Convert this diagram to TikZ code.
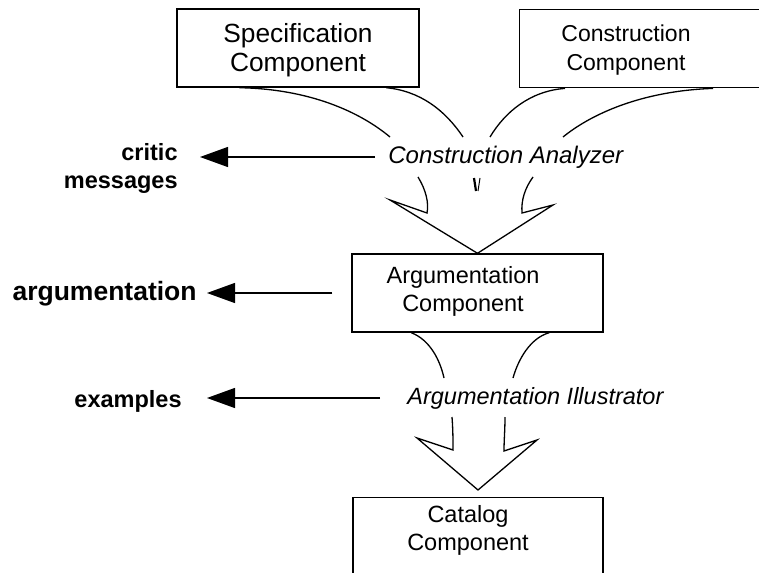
\documentclass[tikz,border=0pt]{standalone}
\usepackage{fontspec}
\setmainfont{Liberation Sans}
\usetikzlibrary{arrows.meta, positioning, calc}

\begin{document}
\begin{tikzpicture}[x=1pt, y=-1pt, thick]
        % Define block styles
        \tikzstyle{block} = [rectangle, draw, line width=1.4pt, inner sep=0pt]
        \tikzstyle{txt} = [inner sep=0pt, align=center]
        \tikzstyle{side} = [inner sep=0pt, align=right, font=\bfseries\fontsize{23.5}{28}\selectfont]
        \tikzstyle{line} = [draw, line width=1.3pt, -{Triangle[length=28pt, width=20pt]}]
        \tikzstyle{curve} = [draw, line width=1.3pt, line join=miter]

        \useasboundingbox (0,0) rectangle (759,572);

        % Define nodes
        \node [block, minimum width=242pt, minimum height=78pt] (spec) at (298,48) {};
        \node [txt, font=\fontsize{26.3}{29}\selectfont] (specTxt) at (298,50) {Specification\\Component};
        \node [block, minimum width=260pt, minimum height=78pt, anchor=north west] (cons) at (519,9) {};
        \node [txt, font=\fontsize{23}{29}\selectfont] (consTxt) at (626,50) {Construction\\Component};
        \node [block, minimum width=251pt, minimum height=78pt] (arg) at (477.5,293) {};
        \node [txt, font=\fontsize{23.5}{28}\selectfont] (argTxt) at (463,291) {Argumentation\\Component};
        \node [block, minimum width=250pt, minimum height=90pt, anchor=north] (cat) at (478,497) {};
        \node [txt, font=\fontsize{23.5}{28}\selectfont] (catTxt) at (468,530) {Catalog\\Component};

        \node [txt, anchor=west, font=\itshape\fontsize{24}{28}\selectfont] (ca) at (388,157) {Construction Analyzer};
        \node [txt, anchor=west, font=\itshape\fontsize{23.5}{28}\selectfont] (ai) at (407,398) {Argumentation Illustrator};

        \node [side, anchor=east] (critic) at (178,168) {critic\\messages};
        \node [side, anchor=east, font=\bfseries\fontsize{26.5}{30}\selectfont] (argOut) at (197,294) {argumentation};
        \node [side, anchor=east] (ex) at (182,401) {examples};

        % Curve ends round the analyzer
        \coordinate (e1) at (390,137);
        \coordinate (e2) at (463,137);
        \coordinate (e3) at (490,137);
        \coordinate (e4) at (563,137);

        % Connect nodes with paths
        \path [curve] ([xshift=63pt]spec.south west) .. controls (310,89) and (360,112) .. (e1);
        \path [curve] ([xshift=210pt]spec.south west) .. controls (420,91) and (445,110) .. (e2);
        \path [curve] ([xshift=46pt]cons.south west) .. controls (530,91) and (505,112) .. (e3);
        \path [curve] ([xshift=194pt]cons.south west) .. controls (640,91) and (590,115) .. (e4);

        \path [curve] (418,177) .. controls (426,190) and (429,203) .. (427,213) -- (390,200) -- (arg.north) -- (553,205) -- (522,213) .. controls (521,200) and (525,188) .. (533,177);
        \draw [line width=2.2pt] (474,178) -- (476,191);
        \draw [line width=1pt] (480,178) -- (478,191);

        \path [curve] ([xshift=60pt]arg.south west) .. controls (430,340) and (440,360) .. (444,378);
        \path [curve] ([xshift=198pt]arg.south west) .. controls (530,338) and (518,360) .. (513,378);

        \path [curve] (452,417) .. controls (453,430) and (453,440) .. (453,450) -- (417,438) -- ([yshift=7pt]cat.north) -- (537,440) -- (504,451) .. controls (504,440) and (505,430) .. (505,417);

        \path [line] ([xshift=-13pt]ca.west) -- ($(critic.east |- ca.west)+(22,0)$);
        \path [line] ([xshift=-19pt]arg.west) -- ($(argOut.east |- arg.west)+(10,0)$);
        \path [line] ([xshift=-27pt]ai.west) -- ($(ex.east |- ai.west)+(25,0)$);

    \end{tikzpicture}
\end{document}
